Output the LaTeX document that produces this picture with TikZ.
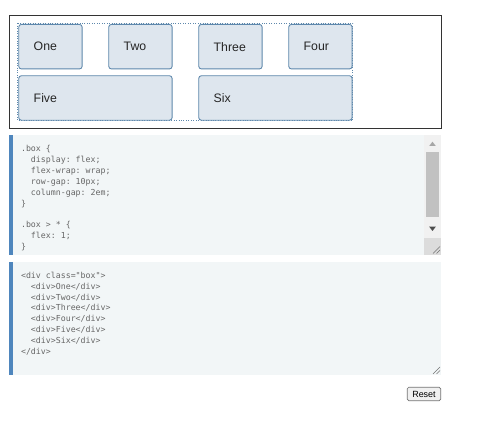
\documentclass[tikz,border=0pt]{standalone}
\usepackage{fontspec}
\setmainfont{Liberation Sans}
\setmonofont{DejaVu Sans Mono}
\usepackage{tikz}
\usetikzlibrary{positioning, calc}
\definecolor{itemfill}{HTML}{DEE6EE}
\definecolor{itemborder}{HTML}{5E88AC}
\definecolor{codebg}{HTML}{F2F6F7}
\definecolor{codebar}{HTML}{4F86BD}
\definecolor{codegray}{HTML}{666666}
\definecolor{trackgray}{HTML}{F1F1F1}
\definecolor{thumbgray}{HTML}{C1C1C1}
\definecolor{cornergray}{HTML}{DCDCDC}

\begin{document}
\begin{tikzpicture}[x=0.02cm, y=-0.02cm]
  \useasboundingbox[fill=white] (0,0) rectangle (485,442);

  % Output panel with the flex container
  \draw[black!80, line width=0.5pt] (9.3,15.3) rectangle (441.7,128.3);
  \draw[itemborder, densely dotted, line width=0.4pt] (17.3,23.3) rectangle (352.7,120.3);

  \tikzset{
    flexitem/.style={draw=itemborder, fill=itemfill, line width=0.5pt, rounded corners=1.5pt,
      anchor=north west, inner xsep=0.3cm, inner ysep=0pt, minimum height=0.89cm,
      align=left, font=\fontsize{7}{8}\selectfont, text=black!85},
    smallitem/.style={flexitem, text width=0.668cm},
    wideitem/.style={flexitem, text width=2.468cm}
  }

  % First row: four items
  \foreach \lbl [count=\i from 0] in {One, Two, Three, Four} {
    \node[smallitem] (item\i) at (18.3+90*\i, 24) {\lbl};
  }
  % Second row: two wide items
  \node[wideitem] (five) at (18.3, 75.3) {Five};
  \node[wideitem] (six) at (198.3, 75.3) {Six};

  % CSS editor
  \fill[codebg] (9.3,135) rectangle (441,255);
  \fill[codebar] (9.3,135) rectangle (12.7,255);
  \node[anchor=north west, inner sep=0pt, text=codegray, align=left,
        font=\fontsize{4.7}{6.25}\selectfont\ttfamily] (css) at (20.7,144.5) {%
    .box \{\\
    \hphantom{xx}display: flex;\\
    \hphantom{xx}flex-wrap: wrap;\\
    \hphantom{xx}row-gap: 10px;\\
    \hphantom{xx}column-gap: 2em;\\
    \}\\
    \mbox{}\\
    .box > * \{\\
    \hphantom{xx}flex: 1;\\
    \}};

  % Scrollbar
  \fill[trackgray] (424,135) rectangle (441,237.7);
  \fill[thumbgray] (426,152) rectangle (439,217.3);
  \fill[black!35] (432.5,141.7) -- (435.8,146) -- (429.2,146) -- cycle;
  \fill[black!70] (432.5,231) -- (435.8,226.7) -- (429.2,226.7) -- cycle;
  \fill[cornergray] (424,237.7) rectangle (441,255);
  \draw[black!55, line width=0.3pt] (433,253.5) -- (440,246.5) (436.5,253.5) -- (440,250);

  % HTML editor
  \fill[codebg] (9.3,261.7) rectangle (441,375);
  \fill[codebar] (9.3,261.7) rectangle (12.7,375);
  \node[anchor=north west, inner sep=0pt, text=codegray, align=left,
        font=\fontsize{4.7}{6.15}\selectfont\ttfamily] (html) at (20.7,271.9) {%
    <div class="box">\\
    \hphantom{xx}<div>One</div>\\
    \hphantom{xx}<div>Two</div>\\
    \hphantom{xx}<div>Three</div>\\
    \hphantom{xx}<div>Four</div>\\
    \hphantom{xx}<div>Five</div>\\
    \hphantom{xx}<div>Six</div>\\
    </div>};
  \draw[black!55, line width=0.3pt] (433,374) -- (440,367) (436.5,374) -- (440,370.5);

  % Reset button
  \node[draw=black!55, fill=black!6, rounded corners=0.8pt, line width=0.4pt,
        minimum width=0.668cm, minimum height=0.268cm, inner sep=0pt,
        font=\fontsize{5.1}{6}\selectfont] (reset) at (424,394) {Reset};
\end{tikzpicture}
\end{document}
